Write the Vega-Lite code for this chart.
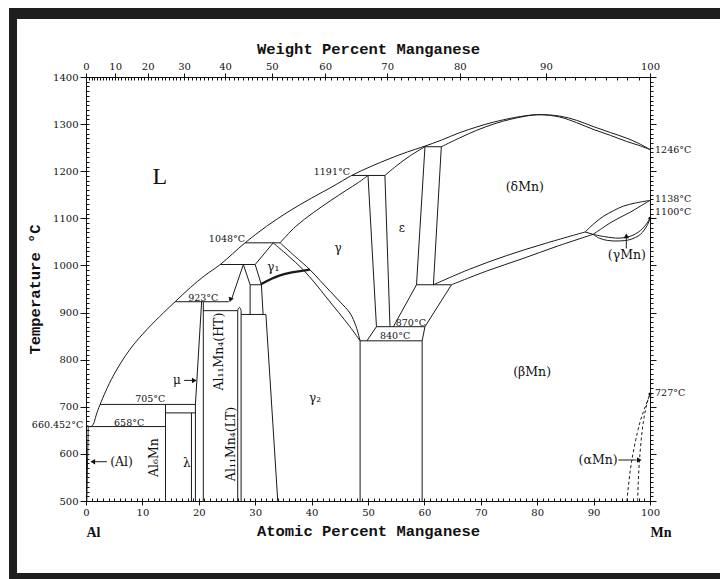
{
  "$schema": "https://vega.github.io/schema/vega-lite/v6.json",
  "width": 564,
  "height": 424,
  "autosize": {"type": "none"},
  "padding": {"left": 86, "top": 77, "right": 70, "bottom": 78},
  "background": "white",
  "config": {
    "view": {"stroke": "#111", "strokeWidth": 1},
    "axis": {
      "grid": false, "domain": false, "tickColor": "#111", "tickWidth": 1,
      "labelColor": "#111", "titleColor": "#111", "labelFlush": false, "labelOverlap": false,
      "labelFont": "DejaVu Serif", "labelFontSize": 10,
      "titleFont": "Liberation Mono", "titleFontSize": 15.5, "titleFontWeight": "bold"
    },
    "text": {"font": "DejaVu Serif", "color": "#111"}
  },
  "datasets": {
    "bounds": [
      {"s": "liq", "x": 0, "t": 660.452}, {"s": "liq", "x": 0.9, "t": 658}, {"s": "liq", "x": 1.3, "t": 663}, {"s": "liq", "x": 1.8, "t": 682},
      {"s": "liq", "x": 2.5, "t": 705}, {"s": "liq", "x": 4.8, "t": 765}, {"s": "liq", "x": 7.8, "t": 822}, {"s": "liq", "x": 10.8, "t": 864},
      {"s": "liq", "x": 13.7, "t": 899}, {"s": "liq", "x": 15.8, "t": 923}, {"s": "liq", "x": 18.5, "t": 953}, {"s": "liq", "x": 21.0, "t": 978},
      {"s": "liq", "x": 23.8, "t": 1002}, {"s": "liq", "x": 28.2, "t": 1048}, {"s": "liq", "x": 32.0, "t": 1083}, {"s": "liq", "x": 36.0, "t": 1115},
      {"s": "liq", "x": 40.0, "t": 1143}, {"s": "liq", "x": 43.8, "t": 1168}, {"s": "liq", "x": 47.1, "t": 1191}, {"s": "liq", "x": 50.5, "t": 1210},
      {"s": "liq", "x": 53.9, "t": 1227}, {"s": "liq", "x": 57.0, "t": 1241}, {"s": "liq", "x": 59.8, "t": 1252}, {"s": "liq", "x": 63.0, "t": 1266},
      {"s": "liq", "x": 66.3, "t": 1282}, {"s": "liq", "x": 69.3, "t": 1294}, {"s": "liq", "x": 72.2, "t": 1304}, {"s": "liq", "x": 76.0, "t": 1314},
      {"s": "liq", "x": 79.9, "t": 1320}, {"s": "liq", "x": 84.0, "t": 1317}, {"s": "liq", "x": 87.0, "t": 1308}, {"s": "liq", "x": 89.9, "t": 1295},
      {"s": "liq", "x": 93.0, "t": 1282}, {"s": "liq", "x": 95.9, "t": 1270}, {"s": "liq", "x": 98.0, "t": 1259}, {"s": "liq", "x": 100, "t": 1246},

      {"s": "solG", "x": 34.4, "t": 1048}, {"s": "solG", "x": 37.2, "t": 1083}, {"s": "solG", "x": 40.3, "t": 1112}, {"s": "solG", "x": 43.3, "t": 1137},
      {"s": "solG", "x": 46.2, "t": 1160}, {"s": "solG", "x": 48.3, "t": 1176}, {"s": "solG", "x": 50.0, "t": 1191},

      {"s": "solE", "x": 53.0, "t": 1191}, {"s": "solE", "x": 55.0, "t": 1211}, {"s": "solE", "x": 57.5, "t": 1233}, {"s": "solE", "x": 60.1, "t": 1252},

      {"s": "solD", "x": 63.0, "t": 1252}, {"s": "solD", "x": 66.3, "t": 1271}, {"s": "solD", "x": 69.3, "t": 1287}, {"s": "solD", "x": 72.5, "t": 1301},
      {"s": "solD", "x": 75.2, "t": 1310}, {"s": "solD", "x": 78.0, "t": 1317}, {"s": "solD", "x": 80.5, "t": 1320}, {"s": "solD", "x": 84.0, "t": 1315},
      {"s": "solD", "x": 87.0, "t": 1303}, {"s": "solD", "x": 89.9, "t": 1289}, {"s": "solD", "x": 93.0, "t": 1276}, {"s": "solD", "x": 95.9, "t": 1263},
      {"s": "solD", "x": 98.0, "t": 1255}, {"s": "solD", "x": 100, "t": 1246},

      {"s": "p1252", "x": 59.8, "t": 1252}, {"s": "p1252", "x": 63.0, "t": 1252},
      {"s": "p1191", "x": 47.1, "t": 1191}, {"s": "p1191", "x": 53.0, "t": 1191},
      {"s": "p1048", "x": 28.2, "t": 1048}, {"s": "p1048", "x": 34.4, "t": 1048},
      {"s": "p1002", "x": 23.8, "t": 1002}, {"s": "p1002", "x": 30.0, "t": 1002},
      {"s": "p923", "x": 15.8, "t": 923}, {"s": "p923", "x": 25.3, "t": 923},
      {"s": "p705", "x": 2.5, "t": 705}, {"s": "p705", "x": 19.4, "t": 705},
      {"s": "p687", "x": 14.1, "t": 687}, {"s": "p687", "x": 19.4, "t": 687},
      {"s": "p658", "x": 0.4, "t": 658}, {"s": "p658", "x": 14.1, "t": 658},
      {"s": "solAl", "x": 0.4, "t": 658}, {"s": "solAl", "x": 0.3, "t": 600}, {"s": "solAl", "x": 0.15, "t": 500},
      {"s": "v141", "x": 14.1, "t": 705}, {"s": "v141", "x": 14.1, "t": 500},
      {"s": "v187", "x": 18.7, "t": 687}, {"s": "v187", "x": 18.7, "t": 500},
      {"s": "v194", "x": 19.4, "t": 705}, {"s": "v194", "x": 19.4, "t": 500},
      {"s": "mu", "x": 19.4, "t": 705}, {"s": "mu", "x": 20.5, "t": 923},
      {"s": "v208", "x": 20.8, "t": 923}, {"s": "v208", "x": 20.8, "t": 500},
      {"s": "p904", "x": 20.8, "t": 904}, {"s": "p904", "x": 26.9, "t": 904},
      {"s": "v269", "x": 26.9, "t": 904}, {"s": "v269", "x": 26.9, "t": 500},
      {"s": "arch", "x": 26.9, "t": 904}, {"s": "arch", "x": 27.0, "t": 908}, {"s": "arch", "x": 27.2, "t": 911}, {"s": "arch", "x": 27.4, "t": 908}, {"s": "arch", "x": 27.5, "t": 903},
      {"s": "v275", "x": 27.5, "t": 903}, {"s": "v275", "x": 27.5, "t": 500},
      {"s": "p896", "x": 27.5, "t": 896}, {"s": "p896", "x": 31.9, "t": 896},
      {"s": "g2l", "x": 31.9, "t": 896}, {"s": "g2l", "x": 34.0, "t": 500},
      {"s": "htl", "x": 27.9, "t": 1002}, {"s": "htl", "x": 25.8, "t": 928},
      {"s": "l2", "x": 27.9, "t": 1002}, {"s": "l2", "x": 29.1, "t": 959},
      {"s": "v291", "x": 29.1, "t": 959}, {"s": "v291", "x": 29.1, "t": 896},
      {"s": "v311", "x": 31.1, "t": 959}, {"s": "v311", "x": 31.4, "t": 896},
      {"s": "p959a", "x": 29.1, "t": 959}, {"s": "p959a", "x": 31.1, "t": 959},
      {"s": "g1tl", "x": 33.2, "t": 1048}, {"s": "g1tl", "x": 30.0, "t": 1002},
      {"s": "g1l", "x": 30.0, "t": 1002}, {"s": "g1l", "x": 31.1, "t": 959},
      {"s": "inner", "x": 33.2, "t": 1048}, {"s": "inner", "x": 35.8, "t": 1021}, {"s": "inner", "x": 38.5, "t": 991}, {"s": "inner", "x": 40.7, "t": 961},
      {"s": "inner", "x": 42.7, "t": 931}, {"s": "inner", "x": 44.8, "t": 900}, {"s": "inner", "x": 46.8, "t": 870}, {"s": "inner", "x": 48.6, "t": 840},
      {"s": "outer", "x": 34.4, "t": 1048}, {"s": "outer", "x": 37.0, "t": 1020}, {"s": "outer", "x": 39.7, "t": 991}, {"s": "outer", "x": 41.5, "t": 968},
      {"s": "outer", "x": 43.3, "t": 945}, {"s": "outer", "x": 45.1, "t": 922}, {"s": "outer", "x": 46.8, "t": 899}, {"s": "outer", "x": 47.9, "t": 870},
      {"s": "outer", "x": 48.6, "t": 840},
      {"s": "gr", "x": 50.0, "t": 1191}, {"s": "gr", "x": 51.5, "t": 870},
      {"s": "el", "x": 53.0, "t": 1191}, {"s": "el", "x": 53.9, "t": 870},
      {"s": "er", "x": 60.1, "t": 1252}, {"s": "er", "x": 58.6, "t": 959},
      {"s": "dl", "x": 63.0, "t": 1252}, {"s": "dl", "x": 61.6, "t": 959},
      {"s": "p959", "x": 58.6, "t": 959}, {"s": "p959", "x": 64.8, "t": 959},
      {"s": "ebot", "x": 58.6, "t": 959}, {"s": "ebot", "x": 54.5, "t": 870},
      {"s": "bl", "x": 64.8, "t": 959}, {"s": "bl", "x": 60.1, "t": 870},
      {"s": "p870", "x": 51.5, "t": 870}, {"s": "p870", "x": 60.1, "t": 870},
      {"s": "gbot", "x": 51.5, "t": 870}, {"s": "gbot", "x": 49.8, "t": 840},
      {"s": "bbot", "x": 60.1, "t": 870}, {"s": "bbot", "x": 59.6, "t": 840},
      {"s": "p840", "x": 48.6, "t": 840}, {"s": "p840", "x": 59.6, "t": 840},
      {"s": "v486", "x": 48.6, "t": 840}, {"s": "v486", "x": 48.6, "t": 500},
      {"s": "v596", "x": 59.6, "t": 840}, {"s": "v596", "x": 59.6, "t": 500},
      {"s": "dbu", "x": 61.6, "t": 959}, {"s": "dbu", "x": 68.0, "t": 992}, {"s": "dbu", "x": 74.6, "t": 1021}, {"s": "dbu", "x": 81.5, "t": 1047}, {"s": "dbu", "x": 88.5, "t": 1071},
      {"s": "dbl", "x": 64.8, "t": 959}, {"s": "dbl", "x": 71.0, "t": 988}, {"s": "dbl", "x": 77.3, "t": 1014}, {"s": "dbl", "x": 83.6, "t": 1041}, {"s": "dbl", "x": 89.9, "t": 1066},
      {"s": "junc", "x": 88.5, "t": 1071}, {"s": "junc", "x": 89.9, "t": 1066},
      {"s": "gdu", "x": 88.5, "t": 1071}, {"s": "gdu", "x": 90.0, "t": 1088}, {"s": "gdu", "x": 91.7, "t": 1104}, {"s": "gdu", "x": 93.5, "t": 1116},
      {"s": "gdu", "x": 95.3, "t": 1126}, {"s": "gdu", "x": 97.6, "t": 1133}, {"s": "gdu", "x": 100, "t": 1138},
      {"s": "gdl", "x": 89.9, "t": 1066}, {"s": "gdl", "x": 91.4, "t": 1078}, {"s": "gdl", "x": 92.9, "t": 1090}, {"s": "gdl", "x": 94.7, "t": 1102},
      {"s": "gdl", "x": 96.5, "t": 1113}, {"s": "gdl", "x": 98.3, "t": 1126}, {"s": "gdl", "x": 100, "t": 1138},
      {"s": "gbu", "x": 89.9, "t": 1066}, {"s": "gbu", "x": 92.0, "t": 1061}, {"s": "gbu", "x": 94.5, "t": 1058}, {"s": "gbu", "x": 96.5, "t": 1062},
      {"s": "gbu", "x": 98.3, "t": 1074}, {"s": "gbu", "x": 99.5, "t": 1090}, {"s": "gbu", "x": 100, "t": 1100},
      {"s": "gbl", "x": 89.9, "t": 1066}, {"s": "gbl", "x": 91.0, "t": 1058}, {"s": "gbl", "x": 92.5, "t": 1053}, {"s": "gbl", "x": 94.5, "t": 1052},
      {"s": "gbl", "x": 96.5, "t": 1055}, {"s": "gbl", "x": 98.3, "t": 1066}, {"s": "gbl", "x": 99.5, "t": 1085}, {"s": "gbl", "x": 100, "t": 1100},
      {"s": "arAl", "x": 1.6, "t": 583.4}, {"s": "arAl", "x": 3.7, "t": 583.4},
      {"s": "arMu", "x": 17.4, "t": 756}, {"s": "arMu", "x": 19.0, "t": 756},
      {"s": "arAlpha", "x": 94.4, "t": 587}, {"s": "arAlpha", "x": 97.6, "t": 587},
      {"s": "arGamma", "x": 95.8, "t": 1036}, {"s": "arGamma", "x": 95.8, "t": 1060}
    ],
    "thick": [
      {"s": "g1bot", "x": 31.0, "t": 960}, {"s": "g1bot", "x": 34.4, "t": 979}, {"s": "g1bot", "x": 39.7, "t": 991}
    ],
    "dashed": [
      {"s": "a1", "x": 95.9, "t": 500}, {"s": "a1", "x": 96.7, "t": 581}, {"s": "a1", "x": 98.2, "t": 666}, {"s": "a1", "x": 99.4, "t": 708}, {"s": "a1", "x": 100, "t": 727},
      {"s": "a2", "x": 97.8, "t": 500}, {"s": "a2", "x": 98.1, "t": 581}, {"s": "a2", "x": 98.8, "t": 666}, {"s": "a2", "x": 99.5, "t": 709}, {"s": "a2", "x": 100, "t": 727}
    ]
  },
  "layer": [
    {
      "data": {"values": [{}]},
      "mark": {"type": "rect", "color": "#1e1e1e"},
      "encoding": {
        "x": {"datum": -13.65, "type": "quantitative", "scale": {"domain": [0, 100], "nice": false, "zero": false}, "axis": null},
        "x2": {"datum": 112.41},
        "y": {"datum": 1546.5, "type": "quantitative", "scale": {"domain": [500, 1400], "nice": false, "zero": false}, "axis": null},
        "y2": {"datum": 1523.1}
      }
    },
    {
      "data": {"values": [{}]},
      "mark": {"type": "rect", "color": "#1e1e1e"},
      "encoding": {
        "x": {"datum": -13.65, "type": "quantitative", "scale": {"domain": [0, 100], "nice": false, "zero": false}, "axis": null},
        "x2": {"datum": -12.23},
        "y": {"datum": 1546.5, "type": "quantitative", "scale": {"domain": [500, 1400], "nice": false, "zero": false}, "axis": null},
        "y2": {"datum": 334.5}
      }
    },
    {
      "data": {"values": [{}]},
      "mark": {"type": "rect", "color": "#1e1e1e"},
      "encoding": {
        "x": {"datum": -13.65, "type": "quantitative", "scale": {"domain": [0, 100], "nice": false, "zero": false}, "axis": null},
        "x2": {"datum": 112.41},
        "y": {"datum": 347.2, "type": "quantitative", "scale": {"domain": [500, 1400], "nice": false, "zero": false}, "axis": null},
        "y2": {"datum": 334.5}
      }
    },
    {
      "data": {"name": "bounds"},
      "mark": {"type": "line", "stroke": "#1a1a1a", "strokeWidth": 1, "interpolate": "catmull-rom"},
      "encoding": {
        "x": {"field": "x", "type": "quantitative", "scale": {"domain": [0, 100], "nice": false, "zero": false}, "axis": null},
        "y": {"field": "t", "type": "quantitative", "scale": {"domain": [500, 1400], "nice": false, "zero": false}, "axis": null},
        "detail": {"field": "s"},
        "order": {"value": null}
      }
    },
    {
      "data": {"name": "thick"},
      "mark": {"type": "line", "stroke": "#1a1a1a", "strokeWidth": 2.2, "interpolate": "catmull-rom"},
      "encoding": {
        "x": {"field": "x", "type": "quantitative", "scale": {"domain": [0, 100], "nice": false, "zero": false}, "axis": null},
        "y": {"field": "t", "type": "quantitative", "scale": {"domain": [500, 1400], "nice": false, "zero": false}, "axis": null},
        "detail": {"field": "s"},
        "order": {"value": null}
      }
    },
    {
      "data": {"name": "dashed"},
      "mark": {"type": "line", "stroke": "#1a1a1a", "strokeWidth": 1, "strokeDash": [3, 2.5], "interpolate": "catmull-rom"},
      "encoding": {
        "x": {"field": "x", "type": "quantitative", "scale": {"domain": [0, 100], "nice": false, "zero": false}, "axis": null},
        "y": {"field": "t", "type": "quantitative", "scale": {"domain": [500, 1400], "nice": false, "zero": false}, "axis": null},
        "detail": {"field": "s"},
        "order": {"value": null}
      }
    },
    {
      "data": {"values": [{"x": 1.2, "t": 583.4}]},
      "mark": {"type": "point", "shape": "triangle-left", "filled": true, "color": "#111", "size": 30, "opacity": 1},
      "encoding": {
        "x": {"field": "x", "type": "quantitative", "scale": {"domain": [0, 100], "nice": false, "zero": false}, "axis": null},
        "y": {"field": "t", "type": "quantitative", "scale": {"domain": [500, 1400], "nice": false, "zero": false}, "axis": null}
      }
    },
    {
      "data": {"values": [{"x": 19.2, "t": 756}, {"x": 98.1, "t": 587}]},
      "mark": {"type": "point", "shape": "triangle-right", "filled": true, "color": "#111", "size": 30, "opacity": 1},
      "encoding": {
        "x": {"field": "x", "type": "quantitative", "scale": {"domain": [0, 100], "nice": false, "zero": false}, "axis": null},
        "y": {"field": "t", "type": "quantitative", "scale": {"domain": [500, 1400], "nice": false, "zero": false}, "axis": null}
      }
    },
    {
      "data": {"values": [{"x": 95.8, "t": 1063}]},
      "mark": {"type": "point", "shape": "triangle-up", "filled": true, "color": "#111", "size": 30, "opacity": 1},
      "encoding": {
        "x": {"field": "x", "type": "quantitative", "scale": {"domain": [0, 100], "nice": false, "zero": false}, "axis": null},
        "y": {"field": "t", "type": "quantitative", "scale": {"domain": [500, 1400], "nice": false, "zero": false}, "axis": null}
      }
    },
    {
      "data": {"values": [{"x": 25.6, "t": 927}]},
      "mark": {"type": "point", "shape": "triangle-up", "angle": 199, "filled": true, "color": "#111", "size": 30, "opacity": 1},
      "encoding": {
        "x": {"field": "x", "type": "quantitative", "scale": {"domain": [0, 100], "nice": false, "zero": false}, "axis": null},
        "y": {"field": "t", "type": "quantitative", "scale": {"domain": [500, 1400], "nice": false, "zero": false}, "axis": null}
      }
    },
    {
      "data": {"values": [{"x": 100, "t": 727}, {"x": 100, "t": 1100}]},
      "mark": {"type": "point", "shape": "circle", "filled": true, "color": "#111", "size": 10, "opacity": 1},
      "encoding": {
        "x": {"field": "x", "type": "quantitative", "scale": {"domain": [0, 100], "nice": false, "zero": false}, "axis": null},
        "y": {"field": "t", "type": "quantitative", "scale": {"domain": [500, 1400], "nice": false, "zero": false}, "axis": null}
      }
    },
    {
      "data": {"values": [{"x": 28.2, "t": 1050, "label": "1048°C"}, {"x": 46.8, "t": 1193, "label": "1191°C"}]},
      "mark": {"type": "text", "fontSize": 9.5, "align": "right", "baseline": "alphabetic"},
      "encoding": {
        "x": {"field": "x", "type": "quantitative", "scale": {"domain": [0, 100], "nice": false, "zero": false}, "axis": null},
        "y": {"field": "t", "type": "quantitative", "scale": {"domain": [500, 1400], "nice": false, "zero": false}, "axis": null},
        "text": {"field": "label"}
      }
    },
    {
      "data": {"values": [{"x": -0.5, "t": 660.452, "label": "660.452°C"}]},
      "mark": {"type": "text", "fontSize": 9.5, "align": "right", "baseline": "middle"},
      "encoding": {
        "x": {"field": "x", "type": "quantitative", "scale": {"domain": [0, 100], "nice": false, "zero": false}, "axis": null},
        "y": {"field": "t", "type": "quantitative", "scale": {"domain": [500, 1400], "nice": false, "zero": false}, "axis": null},
        "text": {"field": "label"}
      }
    },
    {
      "data": {"values": [
        {"x": 20.8, "t": 925, "label": "923°C"},
        {"x": 11.4, "t": 710, "label": "705°C"},
        {"x": 7.65, "t": 660, "label": "658°C"},
        {"x": 57.6, "t": 871, "label": "870°C"},
        {"x": 54.8, "t": 843, "label": "840°C"}
      ]},
      "mark": {"type": "text", "fontSize": 9.5, "align": "center", "baseline": "alphabetic"},
      "encoding": {
        "x": {"field": "x", "type": "quantitative", "scale": {"domain": [0, 100], "nice": false, "zero": false}, "axis": null},
        "y": {"field": "t", "type": "quantitative", "scale": {"domain": [500, 1400], "nice": false, "zero": false}, "axis": null},
        "text": {"field": "label"}
      }
    },
    {
      "data": {"values": [
        {"x": 100.9, "t": 1246, "label": "1246°C"},
        {"x": 100.9, "t": 1140, "label": "1138°C"},
        {"x": 100.9, "t": 1114, "label": "1100°C"},
        {"x": 100.9, "t": 729, "label": "727°C"}
      ]},
      "mark": {"type": "text", "fontSize": 9.5, "align": "left", "baseline": "middle"},
      "encoding": {
        "x": {"field": "x", "type": "quantitative", "scale": {"domain": [0, 100], "nice": false, "zero": false}, "axis": null},
        "y": {"field": "t", "type": "quantitative", "scale": {"domain": [500, 1400], "nice": false, "zero": false}, "axis": null},
        "text": {"field": "label"}
      }
    },
    {
      "data": {"values": [
        {"x": 77.8, "t": 1167, "label": "(δMn)"},
        {"x": 79.1, "t": 774, "label": "(βMn)"},
        {"x": 95.9, "t": 1022, "label": "(γMn)"},
        {"x": 90.8, "t": 586, "label": "(αMn)"},
        {"x": 6.3, "t": 582, "label": "(Al)"}
      ]},
      "mark": {"type": "text", "fontSize": 12.5, "align": "center", "baseline": "middle"},
      "encoding": {
        "x": {"field": "x", "type": "quantitative", "scale": {"domain": [0, 100], "nice": false, "zero": false}, "axis": null},
        "y": {"field": "t", "type": "quantitative", "scale": {"domain": [500, 1400], "nice": false, "zero": false}, "axis": null},
        "text": {"field": "label"}
      }
    },
    {
      "data": {"values": [
        {"x": 44.7, "t": 1036, "label": "γ"},
        {"x": 56.0, "t": 1079, "label": "ε"},
        {"x": 33.2, "t": 997, "label": "γ₁"},
        {"x": 40.6, "t": 718, "label": "γ₂"},
        {"x": 17.85, "t": 580, "label": "λ"},
        {"x": 16.1, "t": 756, "label": "μ"}
      ]},
      "mark": {"type": "text", "fontSize": 12, "align": "center", "baseline": "middle"},
      "encoding": {
        "x": {"field": "x", "type": "quantitative", "scale": {"domain": [0, 100], "nice": false, "zero": false}, "axis": null},
        "y": {"field": "t", "type": "quantitative", "scale": {"domain": [500, 1400], "nice": false, "zero": false}, "axis": null},
        "text": {"field": "label"}
      }
    },
    {
      "data": {"values": [{"x": 13.1, "t": 1188, "label": "L"}]},
      "mark": {"type": "text", "font": "Liberation Serif", "fontSize": 24, "align": "center", "baseline": "middle"},
      "encoding": {
        "x": {"field": "x", "type": "quantitative", "scale": {"domain": [0, 100], "nice": false, "zero": false}, "axis": null},
        "y": {"field": "t", "type": "quantitative", "scale": {"domain": [500, 1400], "nice": false, "zero": false}, "axis": null},
        "text": {"field": "label"}
      }
    },
    {
      "data": {"values": [
        {"x": 12.1, "t": 592, "label": "Al₆Mn"},
        {"x": 23.5, "t": 817, "label": "Al₁₁Mn₄(HT)"},
        {"x": 25.7, "t": 621, "label": "Al₁₁Mn₄(LT)"}
      ]},
      "mark": {"type": "text", "fontSize": 12.5, "angle": 270, "align": "center", "baseline": "middle"},
      "encoding": {
        "x": {"field": "x", "type": "quantitative", "scale": {"domain": [0, 100], "nice": false, "zero": false}, "axis": null},
        "y": {"field": "t", "type": "quantitative", "scale": {"domain": [500, 1400], "nice": false, "zero": false}, "axis": null},
        "text": {"field": "label"}
      }
    },
    {
      "data": {"values": []},
      "mark": {"type": "point", "opacity": 0},
      "encoding": {
        "x": {"field": "x", "type": "quantitative", "scale": {"domain": [0, 100], "nice": false, "zero": false},
          "axis": {"orient": "bottom", "values": [0, 10, 20, 30, 40, 50, 60, 70, 80, 90, 100], "tickSize": 4, "labelPadding": 2,
            "title": "Atomic Percent Manganese", "titlePadding": 6}},
        "y": {"field": "t", "type": "quantitative", "scale": {"domain": [500, 1400], "nice": false, "zero": false},
          "axis": {"orient": "left", "values": [500, 600, 700, 800, 900, 1000, 1100, 1200, 1300, 1400], "format": "d", "tickSize": 6, "labelPadding": 2,
            "title": "Temperature °C", "titlePadding": 10}}
      }
    },
    {
      "data": {"values": []},
      "mark": {"type": "point", "opacity": 0},
      "encoding": {
        "x": {"field": "x", "type": "quantitative", "scale": {"domain": [0, 100], "nice": false, "zero": false},
          "axis": {"orient": "bottom", "tickCount": 100, "tickSize": -3, "labels": false, "title": null}},
        "y": {"field": "t", "type": "quantitative", "scale": {"domain": [500, 1400], "nice": false, "zero": false},
          "axis": {"orient": "left", "tickCount": 90, "tickSize": -3, "labels": false, "title": null}}
      }
    },
    {
      "data": {"values": []},
      "mark": {"type": "point", "opacity": 0},
      "encoding": {
        "x": {"field": "x", "type": "quantitative", "scale": {"domain": [0, 100], "nice": false, "zero": false},
          "axis": {"orient": "top", "tickSize": -3, "labels": false, "title": null,
            "values": [0, 0.49, 0.99, 1.5, 2.01, 2.52, 3.04, 3.56, 4.1, 4.63, 5.17, 5.72, 6.28, 6.84, 7.4, 7.98, 8.55, 9.14, 9.73, 10.33,
              10.93, 11.55, 12.17, 12.79, 13.43, 14.07, 14.72, 15.37, 16.04, 16.71, 17.39, 18.08, 18.77, 19.48, 20.19, 20.91, 21.64, 22.39, 23.14, 23.89,
              24.66, 25.44, 26.23, 27.03, 27.84, 28.66, 29.49, 30.34, 31.19, 32.06, 32.93, 33.82, 34.73, 35.64, 36.57, 37.51, 38.46, 39.43, 40.41, 41.41,
              42.42, 43.44, 44.48, 45.54, 46.61, 47.7, 48.8, 49.93, 51.07, 52.22, 53.4, 54.59, 55.81, 57.04, 58.29, 59.57, 60.86, 62.18, 63.52, 64.88,
              66.27, 67.68, 69.11, 70.57, 72.05, 73.56, 75.1, 76.67, 78.27, 79.89, 81.55, 83.24, 84.96, 86.71, 88.5, 90.32, 92.18, 94.07, 96.01, 97.98, 100]}},
        "y": {"field": "t", "type": "quantitative", "scale": {"domain": [500, 1400], "nice": false, "zero": false},
          "axis": {"orient": "right", "tickCount": 90, "tickSize": 3, "labels": false, "title": null}}
      }
    },
    {
      "data": {"values": []},
      "mark": {"type": "point", "opacity": 0},
      "encoding": {
        "x": {"field": "x", "type": "quantitative", "scale": {"domain": [0, 100], "nice": false, "zero": false},
          "axis": {"orient": "top", "values": [0, 5.174, 10.935, 17.387, 24.664, 32.935, 42.417, 53.398, 66.266, 81.549, 100],
            "labelExpr": "format(100*datum.value*54.94/(datum.value*54.94+(100-datum.value)*26.98), '.0f')",
            "tickSize": 4, "labelPadding": 2, "title": "Weight Percent Manganese", "titlePadding": 5}},
        "y": {"field": "t", "type": "quantitative", "scale": {"domain": [500, 1400], "nice": false, "zero": false},
          "axis": {"orient": "right", "values": [500, 600, 700, 800, 900, 1000, 1100, 1200, 1300, 1400], "tickSize": 6, "labels": false, "title": null}}
      }
    },
    {
      "data": {"values": []},
      "mark": {"type": "point", "opacity": 0},
      "encoding": {
        "x": {"field": "x", "type": "quantitative", "scale": {"domain": [0, 100], "nice": false, "zero": false},
          "axis": {"orient": "bottom", "values": [0, 100], "labelExpr": "datum.value == 0 ? 'Al' : 'Mn'", "ticks": false,
            "labelAlign": "left", "labelPadding": 24, "labelFont": "Liberation Serif", "labelFontSize": 14, "labelFontWeight": "bold", "title": null}},
        "y": {"field": "t", "type": "quantitative", "scale": {"domain": [500, 1400], "nice": false, "zero": false}, "axis": null}
      }
    }
  ],
  "resolve": {"axis": {"x": "independent", "y": "independent"}}
}
